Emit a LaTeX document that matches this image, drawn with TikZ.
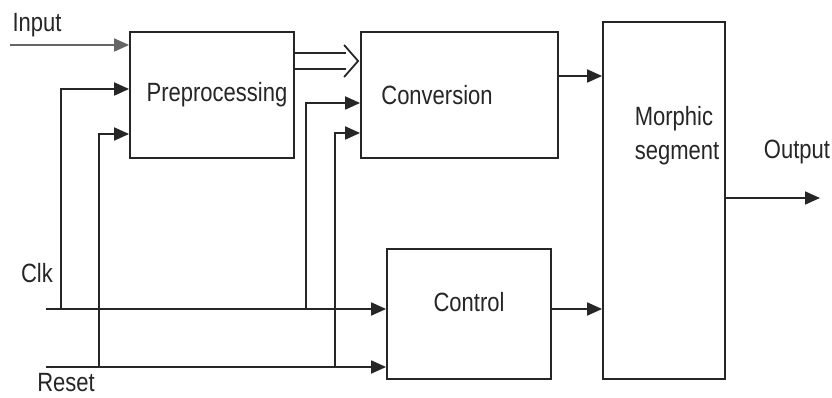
\documentclass[tikz,border=0pt]{standalone}
\usepackage{fontspec}
\setmainfont{Liberation Sans}
\usetikzlibrary{arrows.meta,calc}
\newcommand\tallword[1]{\scalebox{1}[1.2]{#1}}
\tikzset{
  blk/.style={draw=black!85, line width=1.8pt, inner sep=0pt, fill=white},
  wire/.style={draw=black!85, line width=1.8pt},
  arr/.style={wire, -{Triangle[length=15pt,width=13pt]}},
  lbl/.style={inner sep=0pt, font=\fontsize{22}{30}\selectfont, text=black!85},
}
\begin{document}
\begin{tikzpicture}[x=1pt, y=-1pt]
  \useasboundingbox (0,0) rectangle (832,398);

  % blocks
  \node[blk, minimum width=164pt, minimum height=126pt] (pre)   at (212,95)    {};
  \node[blk, minimum width=197pt, minimum height=126pt] (conv)  at (459.5,95)  {};
  \node[blk, minimum width=122pt, minimum height=357pt] (morph) at (664,200.5) {};
  \node[blk, minimum width=164pt, minimum height=130pt] (ctrl)  at (469,314)   {};

  % block captions
  \node[lbl] (tpre)   at (217,95)  {\tallword{Preprocessing}};
  \node[lbl] (tconv)  at (437,95)  {\tallword{Conversion}};
  \node[lbl] (tctrl)  at (469,302) {\tallword{Control}};
  \node[lbl, align=left] (tmorph) at (677,136) {\tallword{Morphic}\\[4pt]\tallword{segment}};

  % signal labels
  \node[lbl] (tin)  at (37,25)  {\tallword{Input}};
  \node[lbl] (tclk) at (37,273) {\tallword{Clk}};
  \node[lbl] (trst) at (66,383) {\tallword{Reset}};
  \node[lbl] (tout) at (797,152) {\tallword{Output}};

  % external signal ends and branch points
  \coordinate (inL) at (10,45);
  \coordinate (clk) at (46,309);
  \coordinate (rst) at (46,367);
  \coordinate (c1)  at (61,309);
  \coordinate (r1)  at (99,367);
  \coordinate (c2)  at (306,309);
  \coordinate (r2)  at (335,367);
  \coordinate (outR) at (820,198);
  \coordinate (convOut) at ($(conv.east)+(0,-19)$);
  \coordinate (ctrlOut) at ($(ctrl.east)+(0,-5)$);

  % input into preprocessing
  \draw[arr, draw=black!60] (inL) -- (inL -| pre.west);

  % clock and reset buses into control
  \draw[arr] (clk) -- (clk -| ctrl.west);
  \draw[arr] (rst) -- (rst -| ctrl.west);

  % taps of clock and reset
  \draw[arr] (c1) |- ($(pre.west)+(0,-6)$);
  \draw[arr] (r1) |- ($(pre.west)+(0,39)$);
  \draw[arr] (c2) |- ($(conv.west)+(0,8)$);
  \draw[arr] (r2) |- ($(conv.west)+(0,38)$);

  % wide data path from preprocessing to conversion
  \draw[wire] ($(pre.east)+(0,-42)$) -- ($(conv.west)+(-14,-42)$);
  \draw[wire] ($(pre.east)+(0,-26)$) -- ($(conv.west)+(-14,-26)$);
  \draw[wire, line join=miter] ($(conv.west)+(-16,-50)$) -- ($(conv.west)+(-2,-34)$) -- ($(conv.west)+(-16,-18)$);

  % into and out of the morphic segment
  \draw[arr] (convOut) -- (convOut -| morph.west);
  \draw[arr] (ctrlOut) -- (ctrlOut -| morph.west);
  \draw[arr] (outR -| morph.east) -- (outR);
\end{tikzpicture}
\end{document}
